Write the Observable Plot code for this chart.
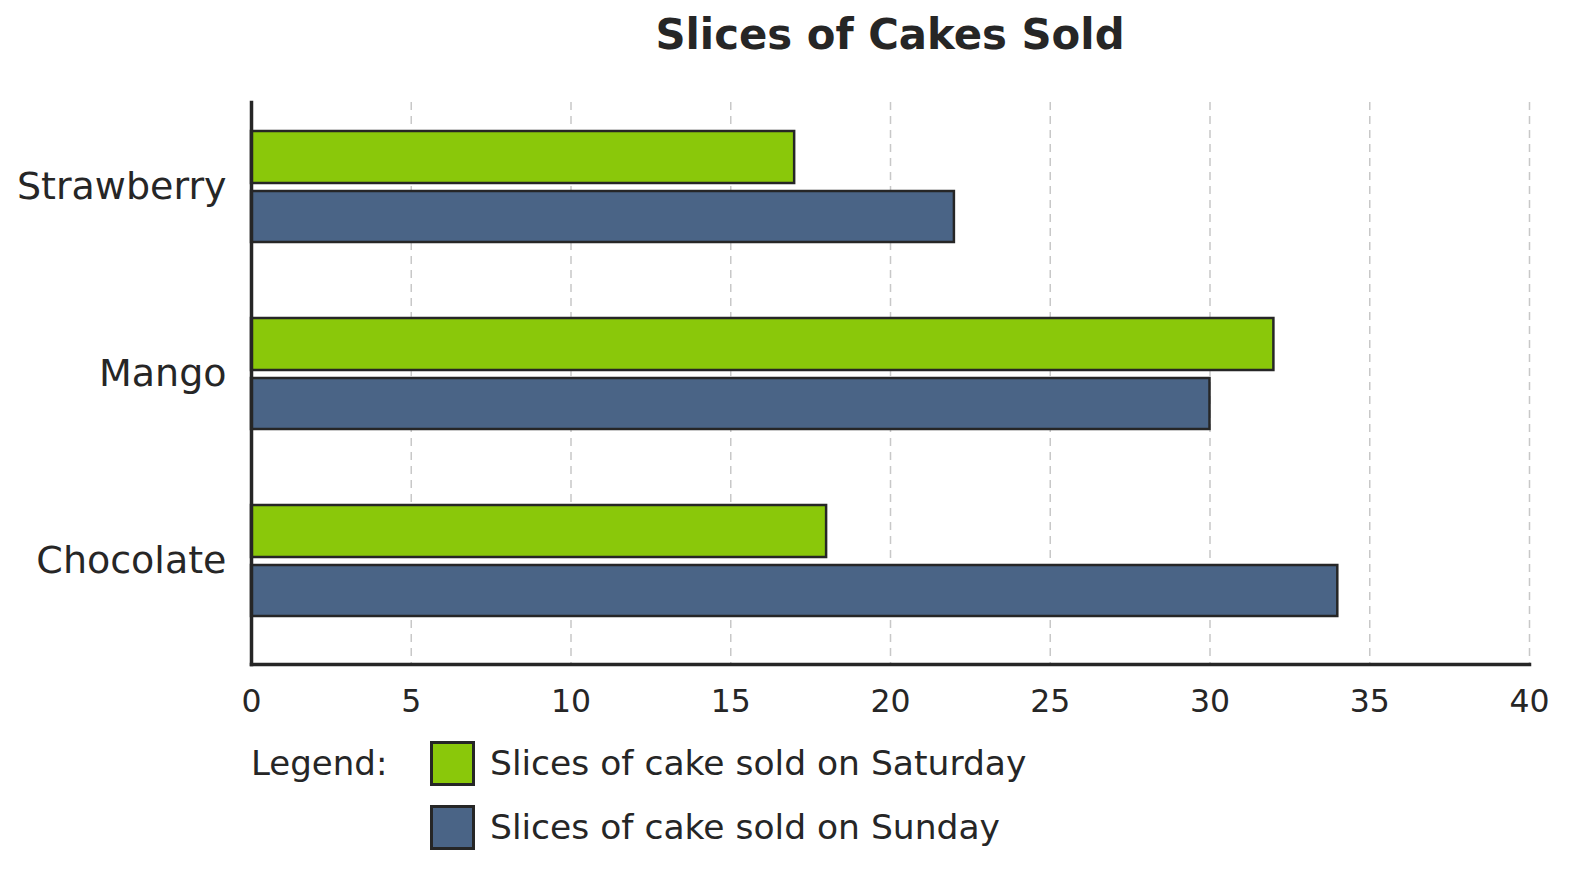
<!DOCTYPE html>
<html>
<head>
<meta charset="utf-8">
<script src="https://cdn.jsdelivr.net/npm/d3@7"></script>
<script src="https://cdn.jsdelivr.net/npm/@observablehq/plot@0.6"></script>
<style>
  html, body { margin: 0; padding: 0; background: #fff; }
  body { width: 1569px; height: 870px; position: relative; font-family: "DejaVu Sans", sans-serif; color: #262626; overflow: hidden; }
  #title { position: absolute; left: 251px; width: 1278px; top: 0; height: 70px; line-height: 70px; text-align: center; font-weight: bold; font-size: 41.8px; }
  #chart { position: absolute; left: 0; top: 0; }
  .legend-label { position: absolute; left: 251px; top: 741px; height: 44px; line-height: 44px; font-size: 34px; }
  .legend-item { position: absolute; left: 430px; height: 44px; display: flex; align-items: center; font-size: 34.5px; }
  .swatch { width: 39px; height: 39px; border: 3px solid #262626; box-sizing: content-box; margin-right: 15px; }
</style>
</head>
<body>
<div id="title"></div>
<div id="chart"></div>
<div class="legend-label">Legend:</div>
<div id="legend"></div>
<script>
const title = "Slices of Cakes Sold";
const categories = ["Strawberry", "Mango", "Chocolate"];
const seriesNames = ["Slices of cake sold on Saturday", "Slices of cake sold on Sunday"];
const saturday = [17, 32, 18];
const sunday = [22, 30, 34];
const xTicks = [0, 5, 10, 15, 20, 25, 30, 35, 40];
const colors = ["#8AC80A", "#4A6486"];

document.getElementById("title").textContent = title;

const satRows = categories.map((c, i) => ({category: c, value: saturday[i]}));
const sunRows = categories.map((c, i) => ({category: c, value: sunday[i]}));

const ink = "#262626";
const chart = Plot.plot({
  width: 1569,
  height: 720,
  marginLeft: 251,
  marginRight: 40,
  marginTop: 102,
  marginBottom: 56,
  style: {fontFamily: "DejaVu Sans, sans-serif", color: ink, background: "transparent"},
  x: {domain: [0, 40], ticks: xTicks},
  y: {domain: categories, paddingInner: 0.408, paddingOuter: 0.2025, align: 0.369},
  marks: [
    Plot.gridX(xTicks.filter(d => d > 0), {stroke: "#c8c8c8", strokeOpacity: 1, strokeWidth: 1.5, strokeDasharray: "8,6"}),
    Plot.barX(satRows, {x: "value", y: "category", fill: colors[0], stroke: ink, strokeWidth: 2.5, insetBottom: 59}),
    Plot.barX(sunRows, {x: "value", y: "category", fill: colors[1], stroke: ink, strokeWidth: 2.5, insetTop: 60}),
    Plot.axisX({ticks: xTicks, tickSize: 0, tickPadding: 25, fontSize: 31.5, label: null, color: ink}),
    Plot.axisY({tickSize: 0, tickPadding: 25, fontSize: 38, label: null, color: ink}),
    Plot.frame({anchor: "bottom", stroke: ink, strokeWidth: 3.5}),
    Plot.frame({anchor: "left", stroke: ink, strokeWidth: 3.5})
  ]
});
document.getElementById("chart").appendChild(chart);

const legend = document.getElementById("legend");
seriesNames.forEach((name, i) => {
  const item = document.createElement("div");
  item.className = "legend-item";
  item.style.top = (741 + i * 64) + "px";
  const sw = document.createElement("div");
  sw.className = "swatch";
  sw.style.background = colors[i];
  const label = document.createElement("span");
  label.textContent = name;
  item.appendChild(sw);
  item.appendChild(label);
  legend.appendChild(item);
});
</script>
</body>
</html>
